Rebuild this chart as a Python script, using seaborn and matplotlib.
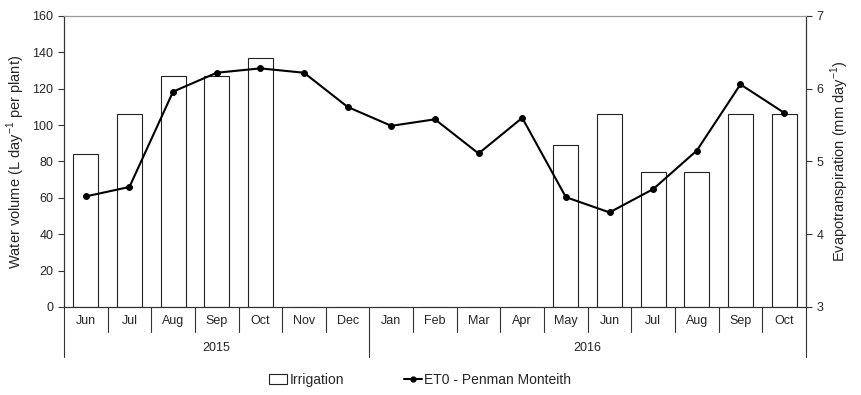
import numpy as np
import pandas as pd
import matplotlib
matplotlib.use("Agg")
import matplotlib.pyplot as plt
import matplotlib.transforms as mtransforms
from matplotlib.lines import Line2D
from matplotlib.patches import Patch
import seaborn as sns

months = ["Jun", "Jul", "Aug", "Sep", "Oct", "Nov", "Dec",
          "Jan", "Feb", "Mar", "Apr", "May", "Jun", "Jul", "Aug", "Sep", "Oct"]
years = ["2015"] * 7 + ["2016"] * 10
irrigation = [84, 106, 127, 127, 137, 0, 0, 0, 0, 0, 0, 89, 106, 74, 74, 106, 106]
et0 = [4.52, 4.65, 5.96, 6.22, 6.28, 6.22, 5.75, 5.49, 5.58, 5.11, 5.60,
       4.51, 4.30, 4.62, 5.15, 6.06, 5.67]

sns.set_theme(style="white")
plt.rcParams['font.family'] = ['Liberation Sans Narrow', 'Liberation Sans', 'DejaVu Sans']

keys = [f"{m} {y}" for m, y in zip(months, years)]
df = pd.DataFrame({"key": keys, "month": months, "year": years,
                   "irrigation": irrigation, "et0": et0,
                   "pos": np.arange(len(months))})

fig = plt.figure(figsize=(8.61, 3.95), dpi=100)
ax = fig.add_axes([0.0743, 0.2228, 0.8617, 0.7367])

sns.barplot(data=df, x="key", y="irrigation", order=keys, color="white",
            edgecolor="#222222", linewidth=0.8, width=0.57, ax=ax,
            saturation=1, errorbar=None)
ax.set_xlim(-0.5, len(months) - 0.5)
ax.set_ylim(0, 160)
ax.set_yticks(range(0, 161, 20))
ax.set_xticks(range(len(months)))
ax.set_xticklabels(months, fontsize=9)
ax.tick_params(axis="x", length=0, pad=6)
ax.tick_params(axis="y", length=4, width=0.8, direction="out", labelsize=9, left=True, color="#333333")
ax.set_xlabel("")
ax.set_ylabel("Water volume (L day$^{\\mathregular{-1}}$ per plant)", fontsize=10.5)

ax2 = ax.twinx()
sns.lineplot(data=df, x="pos", y="et0", color="black", marker="o", markersize=4.2,
             markeredgecolor="black", linewidth=1.5, ax=ax2)
ax2.set_ylim(3, 7)
ax2.set_yticks([3, 4, 5, 6, 7])
ax2.set_xlim(-0.5, len(months) - 0.5)
ax2.tick_params(axis="y", length=4, width=0.8, direction="out", labelsize=9, right=True, color="#333333")
ax2.set_ylabel("Evapotranspiration (mm day$^{\\mathregular{-1}}$)", fontsize=10.5)
ax2.set_xlabel("")

for a in (ax, ax2):
    a.spines["top"].set_color("#999999")
    a.spines["top"].set_linewidth(0.8)
    for s in ("left", "right", "bottom"):
        a.spines[s].set_color("#333333")
        a.spines[s].set_linewidth(0.8)

trans = mtransforms.blended_transform_factory(ax.transData, ax.transAxes)
for i in range(len(months) + 1):
    x = i - 0.5
    boundary = i == 0 or i == len(months) or years[i] != years[i - 1]
    y1 = -0.172 if boundary else -0.086
    ax.add_line(Line2D([x, x], [0, y1], transform=trans, color="#333333",
                       linewidth=0.8, clip_on=False))

for yr in ["2015", "2016"]:
    idx = [i for i, y in enumerate(years) if y == yr]
    xc = (idx[0] + idx[-1]) / 2
    ax.text(xc, -0.14, yr, transform=trans, ha="center", va="center", fontsize=9)

handles = [Patch(facecolor="white", edgecolor="#222222", linewidth=0.8),
           Line2D([], [], color="black", marker="o", markersize=3.5, linewidth=1.5)]
fig.legend(handles, ["Irrigation", "ET0 - Penman Monteith"], loc="center",
           bbox_to_anchor=(0.488, 0.038), ncol=2, frameon=False, fontsize=10,
           handlelength=1.3, handletextpad=0.15, columnspacing=4.3)

fig.savefig("out.png", dpi=100)
